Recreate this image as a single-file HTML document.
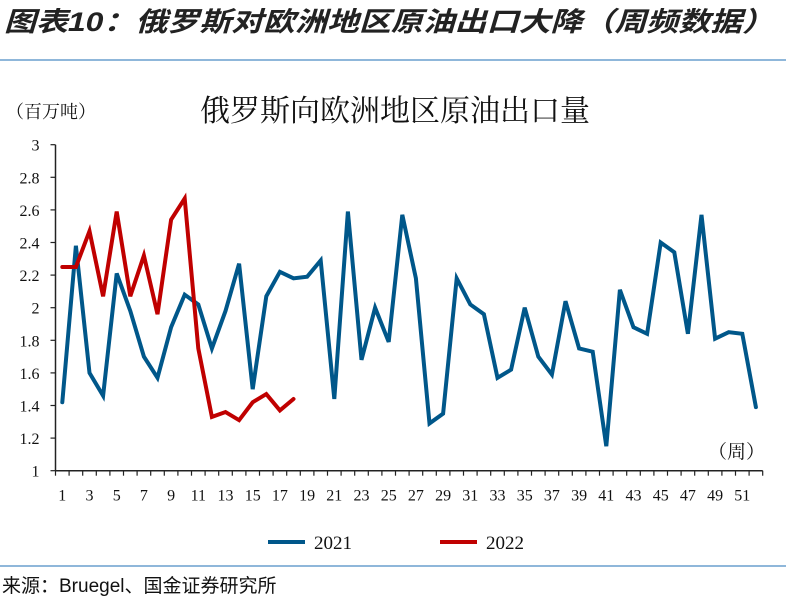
<!DOCTYPE html>
<html><head><meta charset="utf-8"><style>
body{margin:0;background:#fff;width:786px;height:602px;overflow:hidden;font-family:"Liberation Sans","Noto Sans CJK SC",sans-serif}
</style></head><body>
<svg width="786" height="602" xmlns="http://www.w3.org/2000/svg">
<text x="4" y="31" font-size="27" font-weight="bold" font-style="italic" fill="#222" font-family="Liberation Sans,Noto Sans CJK SC,sans-serif" textLength="770" lengthAdjust="spacingAndGlyphs">图表10：俄罗斯对欧洲地区原油出口大降（周频数据）</text>
<line x1="0" y1="60" x2="786" y2="60" stroke="#1f6fb5" stroke-width="1"/>
<text x="395" y="121" font-size="30" text-anchor="middle" fill="#111" font-family="Liberation Serif,Noto Serif CJK SC,serif">俄罗斯向欧洲地区原油出口量</text>
<text x="6" y="118" font-size="18" fill="#111" font-family="Liberation Serif,Noto Serif CJK SC,serif">（百万吨）</text>
<g id="axes"></g>
<g id="series"></g>
<text x="708" y="458" font-size="19" fill="#111" font-family="Liberation Serif,Noto Serif CJK SC,serif">（周）</text>
<g>
<line x1="268" y1="542" x2="305" y2="542" stroke="#00578a" stroke-width="4"/>
<text x="314" y="549" font-size="19" fill="#111" font-family="Liberation Serif,serif">2021</text>
<line x1="440" y1="542" x2="477" y2="542" stroke="#c00000" stroke-width="4"/>
<text x="486" y="549" font-size="19" fill="#111" font-family="Liberation Serif,serif">2022</text>
</g>
<line x1="0" y1="566" x2="786" y2="566" stroke="#1f6fb5" stroke-width="1"/>
<text x="2" y="592" font-size="19" fill="#111">来源：Bruegel、国金证券研究所</text>
</svg>
<script>
const weeks = Array.from({length:52},(_,i)=>i+1);
const yTicks = [1,1.2,1.4,1.6,1.8,2,2.2,2.4,2.6,2.8,3];
const yTickLabels = ["1","1.2","1.4","1.6","1.8","2","2.2","2.4","2.6","2.8","3"];
const s2021 = [1.42,2.38,1.60,1.46,2.21,1.98,1.70,1.57,1.88,2.08,2.02,1.75,1.98,2.27,1.50,2.07,2.22,2.18,2.19,2.29,1.44,2.59,1.68,2.00,1.79,2.57,2.18,1.29,1.35,2.18,2.02,1.96,1.57,1.62,2.00,1.70,1.59,2.04,1.75,1.73,1.15,2.11,1.88,1.84,2.40,2.34,1.84,2.57,1.81,1.85,1.84,1.39];
const s2022 = [2.25,2.25,2.47,2.07,2.59,2.07,2.32,1.96,2.54,2.67,1.75,1.33,1.36,1.31,1.42,1.47,1.37,1.44];
const NS="http://www.w3.org/2000/svg";
const x0=55.5,step=13.6,yb=470.7,yt=144.7,ymin=1,ymax=3;
const xs=w=>x0+step*(w-0.5);
const ys=v=>yb-(v-ymin)/(ymax-ymin)*(yb-yt);
function mk(tag,attrs,parent){const e=document.createElementNS(NS,tag);for(const k in attrs)e.setAttribute(k,attrs[k]);parent.appendChild(e);return e;}
const ax=document.getElementById('axes');
let e=mk('line',{x1:x0,y1:yt,x2:x0,y2:yb,stroke:'#222','stroke-width':1.5},ax);


e=mk('line',{x1:x0,y1:yb,x2:x0+step*52,y2:yb,stroke:'#222','stroke-width':1.5},ax);


yTicks.forEach((v,i)=>{
 const t=mk('line',{x1:x0-5,y1:ys(v),x2:x0,y2:ys(v),stroke:'#222','stroke-width':1.2},ax);
 
 
 const l=mk('text',{x:x0-16,y:ys(v)+6,'font-size':16,'text-anchor':'end',fill:'#111','font-family':'Liberation Serif,serif'},ax);
 l.textContent=yTickLabels[i];
 
 
});
for(let i=0;i<=52;i++){
 const t=mk('line',{x1:x0+step*i,y1:yb,x2:x0+step*i,y2:yb+5,stroke:'#222','stroke-width':1.2},ax);
 
 
}
weeks.forEach(w=>{ if(w%2===1){
 const l=mk('text',{x:xs(w),y:yb+30,'font-size':16,'text-anchor':'middle',fill:'#111','font-family':'Liberation Serif,serif'},ax);
 l.textContent=String(w);
 
 
}});
const sg=document.getElementById('series');
function line(data,color,name){
 const p=mk('polyline',{points:data.map((v,i)=>xs(weeks[i])+','+ys(v)).join(' '),fill:'none',stroke:color,'stroke-width':4,'stroke-linejoin':'miter','stroke-linecap':'round'},sg);
 
 
}
line(s2021,'#00578a','series-2021-line');
line(s2022,'#c00000','series-2022-line');
</script>
</body></html>
